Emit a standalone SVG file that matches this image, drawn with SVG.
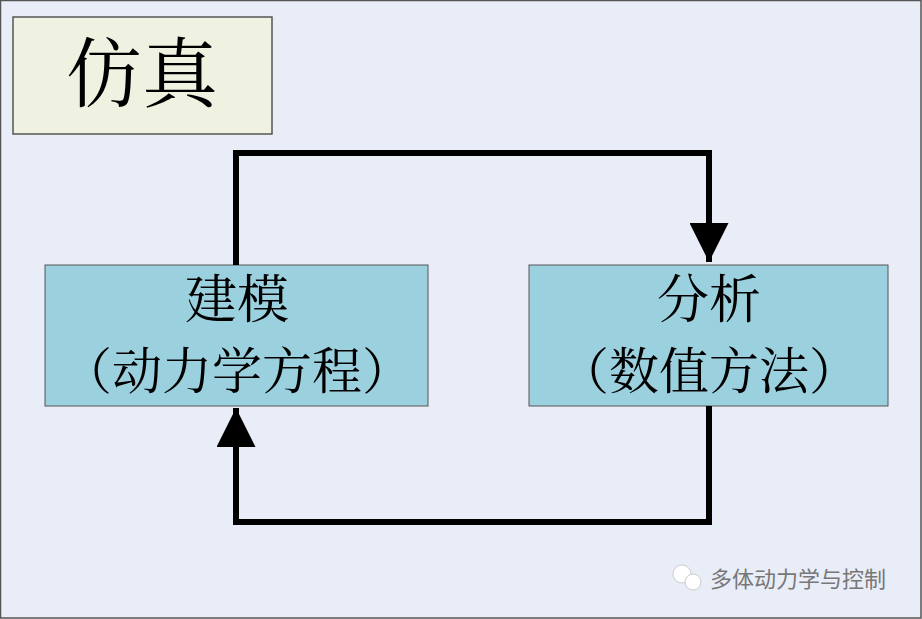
<svg xmlns="http://www.w3.org/2000/svg" width="922" height="619" viewBox="0 0 922 619">
<style>
.t{font-family:"Noto Serif CJK SC","Noto Sans CJK SC",serif;fill:#000;text-anchor:middle}
.box{fill:#9BD0DF;stroke:#555;stroke-width:1}
.c{fill:none;stroke:#000;stroke-width:6;stroke-linejoin:miter}
</style>
<defs><marker id="a" viewBox="0 0 10 10" refX="10" refY="5" markerWidth="6.5" markerHeight="6.5" markerUnits="strokeWidth" orient="auto"><path d="M0,0L10,5L0,10Z" fill="#000"/></marker></defs>
<rect x="0" y="0" width="922" height="619" fill="#E9EDF7"/>
<rect x="0.5" y="0.5" width="920.5" height="617.5" fill="none" stroke="#555" stroke-width="1.5"/>
<g id="title"><rect x="13" y="17" width="259" height="117" fill="#EFF1E1" stroke="#555" stroke-width="1.5"/><text class="t" x="142" y="101" font-size="76">仿真</text></g>
<g id="model"><rect class="box" x="45" y="265" width="383" height="141"/><text class="t" x="237" y="318" font-size="52">建模</text><text class="t" x="237" y="389" font-size="50">（动力学方程）</text></g>
<g id="analysis"><rect class="box" x="529" y="265" width="359" height="141"/><text class="t" x="709" y="318" font-size="52">分析</text><text class="t" x="709" y="389" font-size="50">（数值方法）</text></g>
<g id="connectors">
<path class="c" d="M236,265V153H709V262" marker-end="url(#a)"/>
<path class="c" d="M709,406V522H236V408" marker-end="url(#a)"/>
</g>
<g id="watermark"><circle cx="682" cy="574" r="9" fill="#fff" stroke="#ccc"/><circle cx="693" cy="582" r="8" fill="#fff" stroke="#ccc"/><text x="710" y="587" font-family="Noto Sans CJK SC,sans-serif" font-size="22" fill="#777">多体动力学与控制</text></g>
</svg>
